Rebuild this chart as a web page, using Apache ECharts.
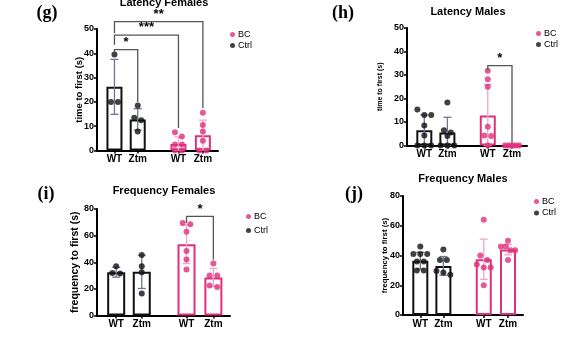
<!DOCTYPE html>
<html>
<head>
<meta charset="utf-8">
<script src="https://cdn.jsdelivr.net/npm/echarts@6/dist/echarts.min.js"></script>
<style>
  html, body { margin: 0; background: #fff; }
  #main { width: 584px; height: 353px; }
</style>
</head>
<body>
<div id="main"></div>
<script>
// groups in every panel: WT Ctrl, Ztm Ctrl, WT BC, Ztm BC
const groupLabels = ["WT", "Ztm", "WT", "Ztm"];
const groupKind = ["Ctrl", "Ctrl", "BC", "BC"];

// (g) latency females
const latFemPoints = [[39.5, 20, 20], [18.5, 13.5, 12.5, 7.8], [7.5, 5.8, 2.5, 2.5, 0, 0], [15.5, 10.5, 7.8, 4, 0, 0]];
const latFemMean = [26.2, 12.8, 2.7, 6.3];
const latFemSd = [11.3, 4.4, 2.9, 6.2];
// [from, to, y, left leg end, right leg end, label]
const latFemSig = [[0, 1, 41.5, 40.5, 20, "*"], [0, 2, 47.5, 43.5, 9.3, "***"], [0, 3, 53, 48.3, 17.5, "**"]];

// (h) latency males
const latMalePoints = [[15.3, 13, 13, 8.5, 4.3, 0, 0, 0], [18.3, 6.5, 5.5, 4, 0, 0, 0], [31.8, 28.2, 25, 8, 4.3, 4, 0], [0, 0, 0, 0, 0, 0]];
const latMaleMean = [6.5, 5.5, 12.8, 0];
const latMaleSd = [6.5, 6.5, 13.2, 0];
const latMaleSig = [[2, 3, 34, 32, 1, "*"]];

// (i) frequency females
const freqFemPoints = [[37, 32, 31.5], [45.5, 37, 32.5, 16.5], [69.5, 68.5, 63, 48.5, 42, 34.5], [39, 30, 30, 22.5, 21.5]];
const freqFemMean = [32.5, 32.8, 53.5, 28.5];
const freqFemSd = [3.7, 12.5, 14.5, 6.8];
const freqFemSig = [[2, 3, 74.4, 69.5, 41.9, "*"]];

// (j) frequency males
const freqMalePoints = [[46, 41, 41, 41, 36, 36, 30, 30], [44, 37, 37, 29.5, 28.5, 27], [64, 40, 37, 34, 32, 32, 20], [50, 46, 46, 43.5, 43.5, 37]];
const freqMaleMean = [36.5, 33, 37.5, 44];
const freqMaleSd = [5.6, 6.3, 13.5, 3.5];
const freqMaleSig = [];

const xPos = [0.75, 1.75, 3.5, 4.55];
const pink = "#e0307c", ctrlCol = "#111", ctrlErr = "#6e7592", bcErr = "#f3a5c8", sigCol = "#555";
const font = "Liberation Sans";

const panels = [
  { pts: latFemPoints, mean: latFemMean, sd: latFemSd, sig: latFemSig, max: 50, step: 10,
    name: "time to first (s)", nameSize: 9.5, title: "Latency Females", tag: "(g)",
    grid: { left: 97, top: 29, width: 121, height: 121.5 }, gap: 13, barW: 16,
    legend: [230, 29, 0], titlePos: [164, 3], tagPos: [47, 13] },
  { pts: latMalePoints, mean: latMaleMean, sd: latMaleSd, sig: latMaleSig, max: 50, step: 10,
    name: "time to first (s)", nameSize: 7, title: "Latency Males", tag: "(h)",
    grid: { left: 407, top: 28, width: 120, height: 117.5 }, gap: 23, barW: 16,
    legend: [536, 28, 0], titlePos: [468, 12], tagPos: [343, 13] },
  { pts: freqFemPoints, mean: freqFemMean, sd: freqFemSd, sig: freqFemSig, max: 80, step: 20,
    name: "frequency to first (s)", nameSize: 10.5, title: "Frequency Females", tag: "(i)",
    grid: { left: 97, top: 209, width: 133, height: 106.5 }, gap: 16, barW: 18,
    legend: [246, 211, 3], titlePos: [164, 191], tagPos: [46, 194] },
  { pts: freqMalePoints, mean: freqMaleMean, sd: freqMaleSd, sig: freqMaleSig, max: 80, step: 20,
    name: "frequency to first (s)", nameSize: 7.8, title: "Frequency Males", tag: "(j)",
    grid: { left: 403, top: 196, width: 120, height: 119 }, gap: 14, barW: 16,
    legend: [534, 196, 0.5], titlePos: [463, 179], tagPos: [354, 194] }
];

// spread points of similar value side by side
function spread(vals, maxV) {
  const idx = vals.map((v, i) => i).sort((a, b) => vals[b] - vals[a]);
  const off = new Array(vals.length).fill(0);
  let i = 0;
  while (i < idx.length) {
    let j = i;
    while (j + 1 < idx.length && vals[idx[i]] - vals[idx[j + 1]] < maxV * 0.05) j++;
    const n = j - i + 1;
    const st = n > 1 ? Math.min(0.3, 0.62 / (n - 1)) : 0;
    for (let k = 0; k < n; k++) off[idx[i + k]] = (k - (n - 1) / 2) * st;
    i = j + 1;
  }
  return off;
}

function labelFor(v) {
  const k = xPos.findIndex(p => Math.abs(p - v) < 0.01);
  return k < 0 ? "" : groupLabels[k];
}

const grids = [], xAxes = [], yAxes = [], series = [], legends = [], graphics = [];

panels.forEach((p, pi) => {
  grids.push(p.grid);
  xAxes.push({
    type: "value", gridIndex: pi, min: 0, max: 5.2,
    axisLine: { show: true, lineStyle: { color: "#000", width: 2 } },
    axisTick: { show: true, customValues: xPos, length: 3, lineStyle: { color: "#000", width: 1.5 } },
    axisLabel: { customValues: xPos, formatter: labelFor, color: "#000", fontSize: 10,
      fontWeight: "bold", fontFamily: font, margin: 4 },
    splitLine: { show: false }
  });
  yAxes.push({
    type: "value", gridIndex: pi, min: 0, max: p.max, interval: p.step,
    name: p.name, nameLocation: "middle", nameGap: p.gap, nameMoveOverlap: false,
    nameTextStyle: { fontSize: p.nameSize, fontWeight: "bold", fontFamily: font, color: "#000" },
    axisLine: { show: true, lineStyle: { color: "#000", width: 2 } },
    axisTick: { show: true, length: 3, lineStyle: { color: "#000", width: 1.5 } },
    axisLabel: { color: "#000", fontSize: 9, fontWeight: "bold", fontFamily: font, margin: 3 },
    splitLine: { show: false }
  });

  series.push({
    type: "bar", xAxisIndex: pi, yAxisIndex: pi, barWidth: p.barW, z: 2,
    data: p.mean.map((m, i) => ({
      value: [xPos[i], m],
      itemStyle: { color: "#fff", borderColor: groupKind[i] === "BC" ? pink : ctrlCol, borderWidth: 2 }
    }))
  });

  series.push({
    type: "custom", xAxisIndex: pi, yAxisIndex: pi, z: 3, silent: true,
    data: p.mean.map((m, i) => [xPos[i], m, p.sd[i], i]),
    renderItem: function (params, api) {
      const x = api.value(0), m = api.value(1), s = api.value(2);
      if (!s) return null;
      const col = groupKind[api.value(3)] === "BC" ? bcErr : ctrlErr;
      const t = api.coord([x, m + s]), b = api.coord([x, Math.max(0, m - s)]);
      const st = { stroke: col, lineWidth: 1.3 };
      return { type: "group", children: [
        { type: "line", shape: { x1: t[0], y1: t[1], x2: b[0], y2: b[1] }, style: st },
        { type: "line", shape: { x1: t[0] - 4, y1: t[1], x2: t[0] + 4, y2: t[1] }, style: st },
        { type: "line", shape: { x1: b[0] - 4, y1: b[1], x2: b[0] + 4, y2: b[1] }, style: st }
      ] };
    }
  });

  ["Ctrl", "BC"].forEach(kind => {
    const data = [];
    p.pts.forEach((vals, i) => {
      if (groupKind[i] !== kind) return;
      const off = spread(vals, p.max);
      vals.forEach((v, k) => data.push([xPos[i] + off[k], v]));
    });
    series.push({
      type: "scatter", name: kind, xAxisIndex: pi, yAxisIndex: pi, z: 4,
      symbol: "circle", symbolSize: 6, data: data,
      itemStyle: { color: kind === "BC" ? pink : ctrlCol }
    });
  });

  if (p.sig.length) {
    series.push({
      type: "custom", xAxisIndex: pi, yAxisIndex: pi, z: 5, silent: true, clip: false,
      data: p.sig.map(s => [xPos[s[0]], xPos[s[1]], s[2], s[3], s[4], s[5]]),
      renderItem: function (params, api) {
        const x1 = api.value(0), x2 = api.value(1), y = api.value(2);
        const a = api.coord([x1, api.value(3)]), b = api.coord([x1, y]);
        const c = api.coord([x2, y]), d = api.coord([x2, api.value(4)]);
        return { type: "group", children: [
          { type: "polyline", shape: { points: [a, b, c, d] },
            style: { stroke: sigCol, lineWidth: 1.3, fill: null } },
          { type: "text", x: (b[0] + c[0]) / 2, y: b[1] - 1,
            style: { text: p.sig[params.dataIndex][5], fill: "#000", fontSize: 13,
              fontWeight: "bold", fontFamily: font, align: "center", verticalAlign: "bottom" } }
        ] };
      }
    });
  }

  legends.push({
    data: ["BC", "Ctrl"], orient: "vertical", left: p.legend[0], top: p.legend[1],
    padding: 0, itemGap: p.legend[2], icon: "circle", itemWidth: 5, itemHeight: 5,
    selectedMode: false,
    textStyle: { fontSize: 9, fontFamily: font, color: "#000", lineHeight: 11, padding: [0, 0, 0, -2] }
  });

  graphics.push({
    type: "text", x: p.titlePos[0], y: p.titlePos[1],
    style: { text: p.title, fontSize: 11, fontWeight: "bold", fontFamily: font, fill: "#000",
      align: "center", verticalAlign: "middle" }
  });
  graphics.push({
    type: "text", x: p.tagPos[0], y: p.tagPos[1],
    style: { text: p.tag, fontSize: 18, fontWeight: "bold", fontFamily: "Liberation Serif", fill: "#000",
      align: "center", verticalAlign: "middle" }
  });
});

const myChart = echarts.init(document.getElementById("main"), null, { renderer: "canvas" });
myChart.setOption({
  animation: false,
  backgroundColor: "#fff",
  grid: grids,
  xAxis: xAxes,
  yAxis: yAxes,
  legend: legends,
  graphic: graphics,
  series: series
});
</script>
</body>
</html>
